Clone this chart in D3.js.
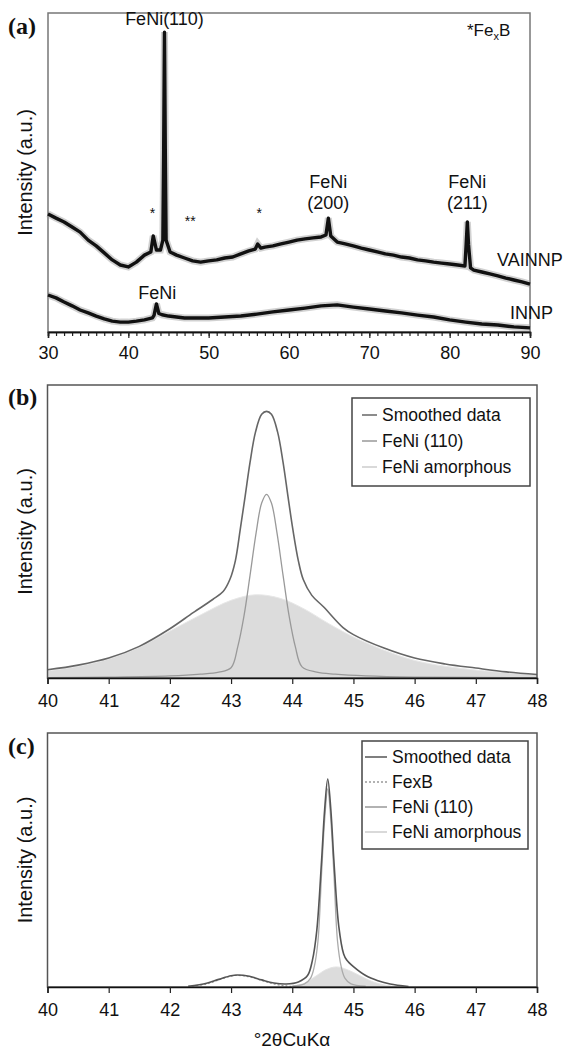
<!DOCTYPE html>
<html>
<head>
<meta charset="utf-8">
<script src="https://cdn.jsdelivr.net/npm/d3@7"></script>
<style>
  body { margin: 0; background: #fff; }
  text { font-family: "Liberation Sans", Arial, sans-serif; fill: #111; }
</style>
</head>
<body>
<div id="chart"></div>
<script>
// ---- panel (a): XRD patterns, [2theta, intensity]
const vainnp = [[30,37.0],[31,35.7],[32,34.5],[33,32.9],[34,31.3],[35,28.8],[36,27.0],[37,24.8],[38,22.6],[39,21.0],
  [40,20.4],[41,21.9],[42,24.1],[42.8,25.1],[43.1,30.1],[43.5,25.7],[44.0,25.7],[44.3,28.8],[44.4,57.1],[44.5,94.0],
  [44.6,57.1],[44.7,28.8],[45.2,25.1],[46,24.1],[47,23.2],[48,22.3],[49,21.9],[50,22.3],[51,22.6],[52,23.2],[53,23.5],
  [54,24.5],[55,25.4],[55.8,26.0],[56.1,27.6],[56.5,26.3],[57,26.6],[58,27.0],[59,27.6],[60,28.2],[61,28.8],[62,29.2],
  [63,29.5],[64,29.8],[64.6,30.4],[64.9,35.7],[65.2,30.1],[66,28.2],[67,27.6],[68,27.0],[69,26.3],[70,25.7],[71,25.1],
  [72,24.5],[73,24.1],[74,23.5],[75,23.2],[76,22.6],[77,22.3],[78,21.9],[79,21.6],[80,21.3],[81,21.0],[81.9,20.7],
  [82.05,27.3],[82.2,34.5],[82.35,27.3],[82.6,20.1],[83,19.4],[84,18.8],[85,18.2],[86,17.6],[87,16.9],[88,16.3],
  [89,15.7],[90,15.0]];
const innp = [[30,11.6],[31,10.7],[32,9.4],[33,8.2],[34,6.9],[35,6.0],[36,5.0],[37,4.1],[38,3.4],[39,3.1],[40,3.1],
  [41,3.4],[42,3.8],[43,4.4],[43.2,5.2],[43.5,8.8],[43.8,5.8],[44.2,5.4],[45,5.0],[46,4.7],[47,4.4],[48,4.4],[50,4.4],
  [52,4.7],[54,5.0],[56,5.6],[58,6.3],[60,6.9],[62,7.5],[64,8.2],[66,8.5],[68,7.8],[70,7.2],[72,6.6],[74,6.0],
  [76,5.3],[78,4.7],[80,3.8],[82,3.1],[84,2.5],[86,2.2],[88,1.6],[90,1.3]];
const aTicks = [30, 40, 50, 60, 70, 80, 90];

// ---- panel (b): fit of INNP
const bSmoothed = [[40,2.8],[40.5,4.4],[41,6.8],[41.5,10.8],[42,16.8],[42.38,22.3],[42.7,26.8],[42.87,29.5],[42.98,33.6],
  [43.07,40],[43.15,50.7],[43.23,62],[43.31,73.6],[43.4,84],[43.5,90],[43.58,91],[43.66,90],[43.76,84],[43.85,73.6],
  [43.93,62],[44.01,50.7],[44.1,40],[44.18,33.6],[44.32,28.2],[44.51,24.3],[44.83,17.2],[45,14.8],[45.5,10.2],[46,6.8],
  [46.5,4.8],[47,3.4],[47.5,2.1],[48,1.2]];
const bFeNi110 = [[40,0.15],[41,0.3],[42,0.7],[42.5,1.3],[42.8,2.0],[43.0,3.5],[43.11,10.7],[43.21,21],[43.31,35],
  [43.41,49.6],[43.5,59.7],[43.58,62.7],[43.66,59.7],[43.75,49.6],[43.85,35],[43.95,21],[44.05,10.7],[44.16,3.8],
  [44.4,2.0],[44.7,1.3],[45.2,0.7],[46,0.3],[48,0.1]];
const bAmorphous = [[40,2.4],[40.5,4],[41,6.5],[41.5,10.5],[42,16],[42.5,21.5],[43,26.5],[43.4,28.4],[43.8,27.2],
  [44.2,23.5],[44.6,18.5],[45,14],[45.5,9.5],[46,6],[46.5,4],[47,2.7],[47.5,1.8],[48,1.2]];

// ---- panel (c): fit of VAINNP
const cSmoothed = [[42.3,0.3],[42.6,1.5],[42.8,3],[43.0,4.4],[43.1,4.7],[43.3,4.2],[43.5,2.8],[43.7,1.6],[43.9,1.2],
  [44.1,2.0],[44.25,4.5],[44.33,10.6],[44.4,22],[44.48,50],[44.53,70],[44.58,81.9],[44.63,70],[44.68,50],[44.76,24],
  [44.84,13],[44.89,10.6],[45.0,8],[45.2,4.5],[45.4,2.5],[45.6,1.2],[45.9,0.2]];
const cFexB = [[42.3,0.2],[42.6,1.2],[42.8,2.8],[43.0,4.3],[43.1,4.6],[43.3,4.0],[43.5,2.6],[43.7,1.2],[43.9,0.4],[44.1,0.1]];
const cFeNi110 = [[44.0,0.3],[44.2,1.2],[44.3,3.5],[44.36,8],[44.42,18],[44.48,45],[44.53,66],[44.58,78],[44.63,66],
  [44.68,45],[44.74,18],[44.8,8],[44.86,3.5],[44.96,1.2],[45.2,0.3]];
const cAmorphous = [[44.0,0.3],[44.2,1.5],[44.4,4.5],[44.55,6.8],[44.72,7.9],[44.9,6.8],[45.1,4.5],[45.3,2.2],[45.5,0.8],[45.7,0.2]];
const bcTicks = [40, 41, 42, 43, 44, 45, 46, 47, 48];

const width = 571, height = 1051;
const svg = d3.select("#chart").append("svg")
  .attr("width", width)
  .attr("height", height);

// panel boxes
const boxA = { x0: 48, x1: 530, y0: 13, y1: 332 };
const boxB = { x0: 47.5, x1: 537, y0: 385, y1: 678 };
const boxC = { x0: 47.5, x1: 537, y0: 733, y1: 987 };

const xA = d3.scaleLinear().domain([30, 90]).range([boxA.x0, boxA.x1]);
const yA = d3.scaleLinear().domain([0, 100]).range([boxA.y1, boxA.y0]);
const xB = d3.scaleLinear().domain([40, 48]).range([boxB.x0, boxB.x1]);
const yB = d3.scaleLinear().domain([0, 100]).range([boxB.y1, boxB.y0]);
const xC = d3.scaleLinear().domain([40, 48]).range([boxC.x0, boxC.x1]);
const yC = d3.scaleLinear().domain([0, 100]).range([boxC.y1, boxC.y0]);

function frame(box, color) {
  svg.append("rect")
    .attr("x", box.x0).attr("y", box.y0)
    .attr("width", box.x1 - box.x0).attr("height", box.y1 - box.y0)
    .attr("fill", "none").attr("stroke", color).attr("stroke-width", 1.5);
}

function yLabel(box) {
  svg.append("text")
    .attr("transform", `translate(25,${(box.y0 + box.y1) / 2}) rotate(-90)`)
    .attr("text-anchor", "middle").attr("dy", "0.35em")
    .style("font-size", "20px")
    .text("Intensity (a.u.)");
}

function panelTag(label, y) {
  svg.append("text")
    .attr("x", 8).attr("y", y)
    .style("font-family", "'Liberation Serif', 'Times New Roman', serif")
    .style("font-weight", "bold").style("font-size", "24px")
    .text(label);
}

function styleAxis(g) {
  g.select(".domain").attr("stroke", "#111").attr("stroke-width", 1.5);
  g.selectAll(".tick line").attr("stroke", "#222").attr("stroke-width", 1.2);
  g.selectAll(".tick text").style("font-size", "18px").attr("fill", "#111")
    .style("font-family", "'Liberation Sans', Arial, sans-serif");
}

// ================= panel (a)
frame(boxA, "#777");
const lineA = d3.line().x(d => xA(d[0])).y(d => yA(d[1]));
[vainnp, innp].forEach(series => {
  svg.append("path").datum(series)
    .attr("d", lineA).attr("fill", "none")
    .attr("stroke", "#999").attr("stroke-width", 7).attr("stroke-opacity", 0.45);
  svg.append("path").datum(series)
    .attr("d", lineA).attr("fill", "none")
    .attr("stroke", "#111").attr("stroke-width", 3.4).attr("stroke-linejoin", "round");
});
svg.append("g").attr("transform", `translate(0,${boxA.y1})`)
  .call(d3.axisBottom(xA).tickValues(d3.range(30, 91, 1)).tickSize(4).tickFormat(""))
  .call(styleAxis);
svg.append("g").attr("transform", `translate(0,${boxA.y1})`)
  .call(d3.axisBottom(xA).tickValues(aTicks).tickSize(6).tickPadding(8).tickFormat(d3.format("d")))
  .call(styleAxis);
yLabel(boxA);
panelTag("(a)", 34);

const annA = svg.append("g").style("font-size", "18px");
annA.append("text").attr("x", xA(44.5)).attr("y", 25).attr("text-anchor", "middle").text("FeNi(110)");
annA.append("text").attr("x", xA(64.9)).attr("y", 188).attr("text-anchor", "middle").text("FeNi");
annA.append("text").attr("x", xA(64.9)).attr("y", 209).attr("text-anchor", "middle").text("(200)");
annA.append("text").attr("x", xA(82.2)).attr("y", 188).attr("text-anchor", "middle").text("FeNi");
annA.append("text").attr("x", xA(82.2)).attr("y", 209).attr("text-anchor", "middle").text("(211)");
annA.append("text").attr("x", xA(43.6)).attr("y", 299).attr("text-anchor", "middle").text("FeNi");
annA.append("text").attr("x", 497).attr("y", 266).text("VAINNP");
annA.append("text").attr("x", 510).attr("y", 319).text("INNP");
const starA = svg.append("g").style("font-size", "14px").attr("text-anchor", "middle");
starA.append("text").attr("x", xA(43.0)).attr("y", 218).text("*");
starA.append("text").attr("x", xA(47.7)).attr("y", 226).text("**");
starA.append("text").attr("x", xA(56.3)).attr("y", 218).text("*");
const fexb = svg.append("text").attr("x", 467).attr("y", 36).style("font-size", "17px");
fexb.append("tspan").text("*Fe");
fexb.append("tspan").attr("dy", 4).style("font-size", "11px").text("x");
fexb.append("tspan").attr("dy", -4).text("B");

// ================= panel (b)
const areaB = d3.area().x(d => xB(d[0])).y0(yB(0)).y1(d => yB(d[1])).curve(d3.curveCatmullRom);
const lineB = d3.line().x(d => xB(d[0])).y(d => yB(d[1])).curve(d3.curveCatmullRom);
svg.append("path").datum(bAmorphous).attr("d", areaB).attr("fill", "#dcdcdc").attr("stroke", "#e8e8e8").attr("stroke-width", 1);
svg.append("path").datum(bFeNi110).attr("d", lineB).attr("fill", "none").attr("stroke", "#999").attr("stroke-width", 1.3);
svg.append("path").datum(bSmoothed).attr("d", lineB).attr("fill", "none").attr("stroke", "#666").attr("stroke-width", 1.6);
frame(boxB, "#555");
svg.append("g").attr("transform", `translate(0,${boxB.y1})`)
  .call(d3.axisBottom(xB).tickValues(bcTicks).tickSize(6).tickPadding(10).tickFormat(d3.format("d")))
  .call(styleAxis);
yLabel(boxB);
panelTag("(b)", 405);

const legB = [
  { name: "Smoothed data", color: "#666", dash: null },
  { name: "FeNi (110)", color: "#999", dash: null },
  { name: "FeNi amorphous", color: "#ccc", dash: null }
];
const lgB = svg.append("g");
lgB.append("rect").attr("x", 352).attr("y", 398).attr("width", 178).attr("height", 88)
  .attr("fill", "#fff").attr("stroke", "#444").attr("stroke-width", 1.5);
legB.forEach((d, i) => {
  const y = 415 + i * 26;
  lgB.append("line").attr("x1", 362).attr("x2", 377).attr("y1", y).attr("y2", y)
    .attr("stroke", d.color).attr("stroke-width", 1.5);
  lgB.append("text").attr("x", 382).attr("y", y).attr("dy", "0.35em").style("font-size", "17.5px").text(d.name);
});

// ================= panel (c)
const areaC = d3.area().x(d => xC(d[0])).y0(yC(0)).y1(d => yC(d[1])).curve(d3.curveCatmullRom);
const lineC = d3.line().x(d => xC(d[0])).y(d => yC(d[1])).curve(d3.curveCatmullRom);
svg.append("path").datum(cAmorphous).attr("d", areaC).attr("fill", "#dcdcdc").attr("stroke", "#e4e4e4").attr("stroke-width", 1);
svg.append("path").datum(cFexB).attr("d", lineC).attr("fill", "none").attr("stroke", "#999").attr("stroke-width", 1.3).attr("stroke-dasharray", "2,2");
svg.append("path").datum(cFeNi110).attr("d", lineC).attr("fill", "none").attr("stroke", "#aaa").attr("stroke-width", 1.3);
svg.append("path").datum(cSmoothed).attr("d", lineC).attr("fill", "none").attr("stroke", "#555").attr("stroke-width", 1.6);
frame(boxC, "#555");
svg.append("g").attr("transform", `translate(0,${boxC.y1})`)
  .call(d3.axisBottom(xC).tickValues(bcTicks).tickSize(6).tickPadding(10).tickFormat(d3.format("d")))
  .call(styleAxis);
yLabel(boxC);
panelTag("(c)", 754);

const legC = [
  { name: "Smoothed data", color: "#555", dash: null },
  { name: "FexB", color: "#999", dash: "2,2" },
  { name: "FeNi (110)", color: "#999", dash: null },
  { name: "FeNi amorphous", color: "#ccc", dash: null }
];
const lgC = svg.append("g");
lgC.append("rect").attr("x", 362).attr("y", 741).attr("width", 166).attr("height", 108)
  .attr("fill", "#fff").attr("stroke", "#444").attr("stroke-width", 1.5);
legC.forEach((d, i) => {
  const y = 757 + i * 25;
  lgC.append("line").attr("x1", 365).attr("x2", 387).attr("y1", y).attr("y2", y)
    .attr("stroke", d.color).attr("stroke-width", 1.5).attr("stroke-dasharray", d.dash);
  lgC.append("text").attr("x", 392).attr("y", y).attr("dy", "0.35em").style("font-size", "17.5px").text(d.name);
});

svg.append("text")
  .attr("x", 292).attr("y", 1046).attr("text-anchor", "middle")
  .style("font-size", "19px")
  .text("°2θCuKα");
</script>
</body>
</html>
